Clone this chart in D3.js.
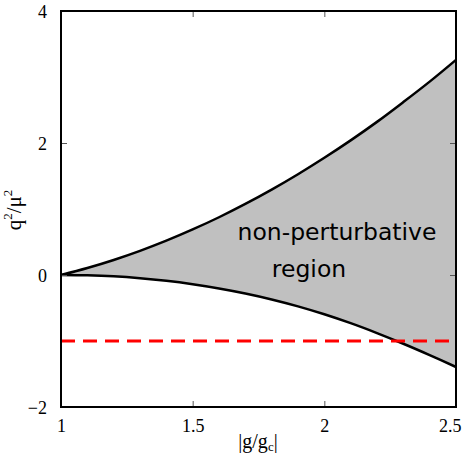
<!DOCTYPE html>
<html>
<head>
<meta charset="utf-8">
<script src="https://cdn.jsdelivr.net/npm/d3@7"></script>
<style>
  html, body { margin: 0; padding: 0; background: #fff; }
  svg { display: block; }
</style>
</head>
<body>
<svg id="chart" width="463" height="457"></svg>
<script>
// ---- data ----
const gRatio = [1.0, 1.1, 1.2, 1.3, 1.4, 1.5, 1.6, 1.7, 1.8, 1.9, 2.0, 2.1, 2.2, 2.3, 2.4, 2.5];
const upperBound = [0, 0.106, 0.228, 0.366, 0.52, 0.69, 0.875, 1.077, 1.294, 1.527, 1.776, 2.04, 2.32, 2.62, 2.93, 3.26];
const lowerBound = [0, -0.005, -0.02, -0.048, -0.088, -0.14, -0.204, -0.28, -0.37, -0.475, -0.595, -0.73, -0.88, -1.042, -1.214, -1.394];
const thresholdLevel = -1;
const xTicks = [1, 1.5, 2, 2.5];
const xTickLabels = ["1", "1.5", "2", "2.5"];
const yTicks = [-2, 0, 2, 4];
const yTickLabels = ["\u22122", "0", "2", "4"];

const svg = d3.select("#chart");
const L = 61, R = 456, T = 11, B = 407;
const x = d3.scaleLinear().domain([1, 2.5]).range([L, R]);
const y = d3.scaleLinear().domain([-2, 4]).range([B, T]);

const pts = gRatio.map((g, i) => ({ g, up: upperBound[i], lo: lowerBound[i] }));

// shaded region
svg.append("path")
  .datum(pts)
  .attr("d", d3.area().x(d => x(d.g)).y0(d => y(d.lo)).y1(d => y(d.up)).curve(d3.curveCatmullRom))
  .attr("fill", "#c0c0c0");

const lineUp = d3.line().x(d => x(d.g)).y(d => y(d.up)).curve(d3.curveCatmullRom);
const lineLo = d3.line().x(d => x(d.g)).y(d => y(d.lo)).curve(d3.curveCatmullRom);
svg.append("path").datum(pts).attr("d", lineUp).attr("fill", "none").attr("stroke", "#000").attr("stroke-width", 2.5);
svg.append("path").datum(pts).attr("d", lineLo).attr("fill", "none").attr("stroke", "#000").attr("stroke-width", 2.5);

// red dashed line
svg.append("line")
  .attr("x1", x(1)).attr("x2", x(2.5))
  .attr("y1", y(thresholdLevel)).attr("y2", y(thresholdLevel))
  .attr("stroke", "#ff0000").attr("stroke-width", 3).attr("stroke-dasharray", "14,8");

// axes with inward ticks
const fmtX = d => xTickLabels[xTicks.indexOf(d)];
const fmtY = d => yTickLabels[yTicks.indexOf(d)];

const axB = svg.append("g").attr("transform", `translate(0,${B})`)
  .call(d3.axisBottom(x).tickValues(xTicks).tickSize(-6).tickPadding(12).tickFormat(fmtX));
const axT = svg.append("g").attr("transform", `translate(0,${T})`)
  .call(d3.axisTop(x).tickValues(xTicks).tickSize(-6).tickFormat(""));
const axL = svg.append("g").attr("transform", `translate(${L},0)`)
  .call(d3.axisLeft(y).tickValues(yTicks).tickSize(-6).tickPadding(14).tickFormat(fmtY));
const axR = svg.append("g").attr("transform", `translate(${R},0)`)
  .call(d3.axisRight(y).tickValues(yTicks).tickSize(-6).tickFormat(""));

[axB, axT, axL, axR].forEach(a => {
  a.select(".domain").remove();
  a.selectAll(".tick line").attr("stroke", "#555").attr("stroke-width", 1);
  a.selectAll("text").attr("font-family", "'Liberation Serif', 'Times New Roman', serif")
    .attr("font-size", 18).attr("fill", "#000");
});
axL.selectAll("text").attr("dy", "0.38em");
// keep the last x label inside the picture, as in the reference
axB.selectAll(".tick text").filter(d => d === 2.5).attr("text-anchor", "end").attr("x", 5);

// box
svg.append("rect")
  .attr("x", L).attr("y", T).attr("width", R - L).attr("height", B - T)
  .attr("fill", "none").attr("stroke", "#000").attr("stroke-width", 2);

// axis labels
const xl = svg.append("text")
  .attr("x", 258).attr("y", 448)
  .attr("text-anchor", "middle")
  .attr("font-family", "'Liberation Serif', 'Times New Roman', serif")
  .attr("font-size", 20).attr("fill", "#000");
xl.append("tspan").text("|g/g");
xl.append("tspan").text("c").attr("font-size", 13).attr("dy", 3);
xl.append("tspan").text("|").attr("dy", -3);

const yl = svg.append("text")
  .attr("transform", "translate(21,210) rotate(-90)")
  .attr("text-anchor", "middle")
  .attr("font-family", "'Liberation Serif', 'Times New Roman', serif")
  .attr("font-size", 21).attr("fill", "#000");
yl.append("tspan").text("q");
yl.append("tspan").text("2").attr("font-size", 13).attr("dy", -9);
yl.append("tspan").text("/\u03bc").attr("dy", 9);
yl.append("tspan").text("2").attr("font-size", 13).attr("dy", -9);

// annotation
const ann = svg.append("g")
  .attr("font-family", "'DejaVu Sans', sans-serif")
  .attr("font-size", 23.5).attr("fill", "#000").attr("text-anchor", "middle");
ann.append("text").attr("x", 337).attr("y", 240).text("non-perturbative");
ann.append("text").attr("x", 309).attr("y", 277).text("region");
</script>
</body>
</html>
